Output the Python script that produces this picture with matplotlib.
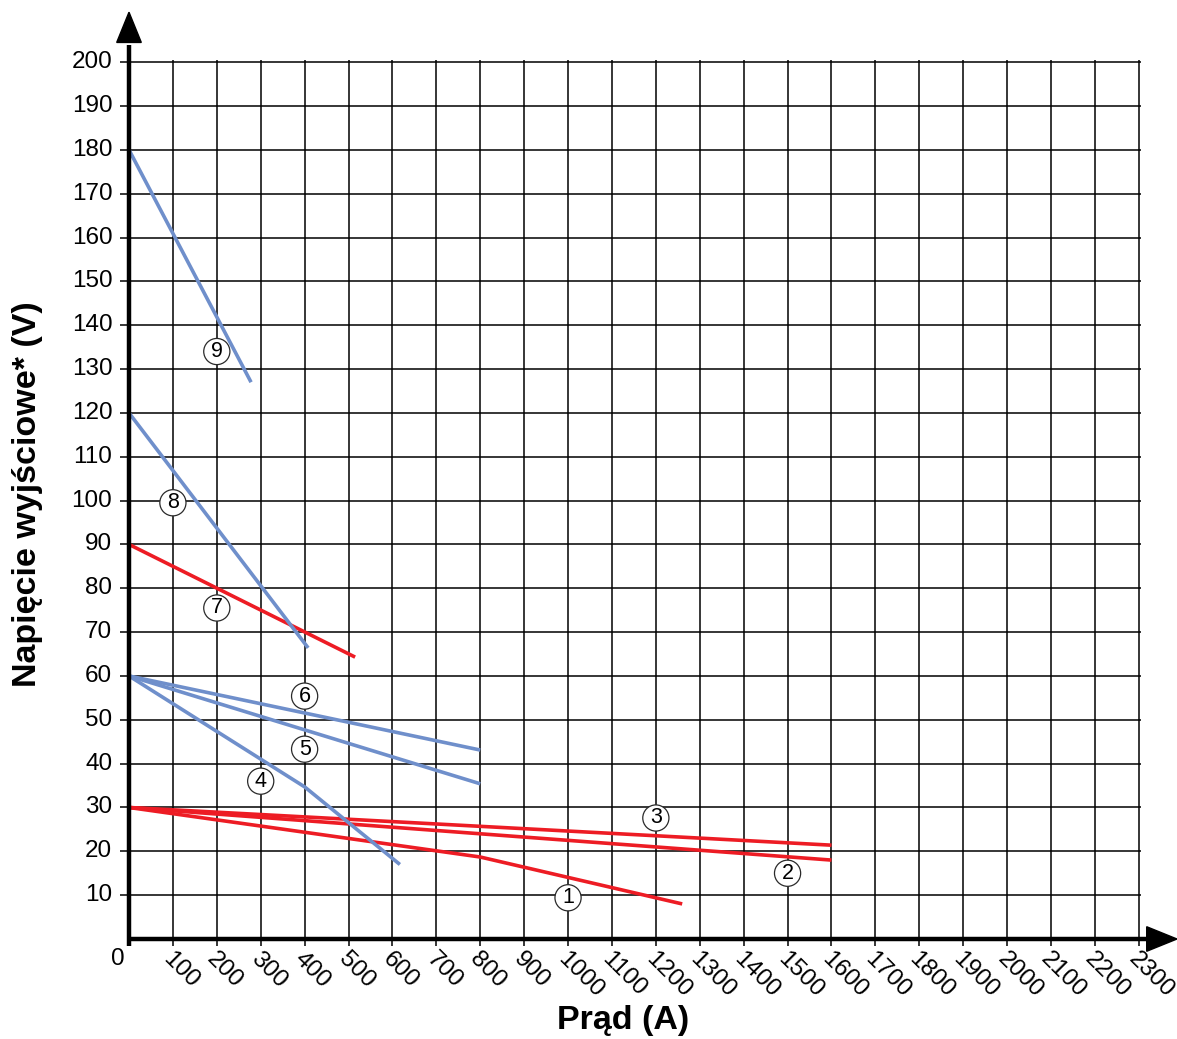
import matplotlib
matplotlib.use("Agg")
import matplotlib.pyplot as plt
from matplotlib.patches import FancyArrow

plt.rcParams['font.family'] = ['Liberation Sans', 'DejaVu Sans']

# Output characteristics: current (A) vs output voltage (V)
x_ticks = list(range(100, 2301, 100))
y_ticks = list(range(10, 201, 10))

curve_ids = ["1", "2", "3", "4", "5", "6", "7", "8", "9"]
curve_x = [
    [0, 800, 1260],
    [0, 1600],
    [0, 1600],
    [0, 400, 617],
    [0, 800],
    [0, 800],
    [0, 515],
    [0, 408],
    [0, 278],
]
curve_y = [
    [30, 18.7, 8],
    [30, 18.0],
    [30, 21.4],
    [60, 34.7, 17],
    [60, 35.4],
    [60, 43.1],
    [90, 64.3],
    [120, 66.4],
    [180, 127],
]
curve_kind = ["red", "red", "red", "blue", "blue", "blue", "red", "blue", "blue"]
label_x = [1000, 1500, 1200, 300, 400, 400, 200, 100, 200]
label_y = [9.4, 15.0, 27.6, 36.0, 43.3, 55.4, 75.5, 99.5, 134.0]

RED = "#ed1c24"
BLUE = "#6f8fcb"

fig = plt.figure(figsize=(11.77, 10.39), dpi=100)
ax = fig.add_axes([129 / 1177, 100 / 1039, 1048 / 1177, 929 / 1039])
ax.set_xlim(0, 2387)
ax.set_ylim(0, 211.9)
ax.set_axis_off()

# grid
ax.hlines(y_ticks, -20, 2305, colors="black", lw=1.1, zorder=1, clip_on=False)
ax.vlines(x_ticks, -1.6, 200.6, colors="black", lw=1.1, zorder=1, clip_on=False)

# axes with arrows
ax.plot([0, 0], [-1.6, 204], color="black", lw=3.2, zorder=5, clip_on=False,
        solid_capstyle="butt")
ax.plot([-2, 2330], [0, 0], color="black", lw=3.2, zorder=5, clip_on=False,
        solid_capstyle="butt")
ax.add_patch(FancyArrow(0, 204.5, 0, 211.4 - 204.5, width=0, head_width=56,
                        head_length=211.4 - 204.5, length_includes_head=True,
                        color="black", zorder=6, clip_on=False))
ax.add_patch(FancyArrow(2318, 0, 2387 - 2318, 0, width=0, head_width=5.6,
                        head_length=2387 - 2318, length_includes_head=True,
                        color="black", zorder=6, clip_on=False))

# curves
for cx, cy, kind in zip(curve_x, curve_y, curve_kind):
    ax.plot(cx, cy, color=RED if kind == "red" else BLUE, lw=2.6,
            solid_capstyle="butt", zorder=3, clip_on=False)

# curve numbers
for cid, lx, ly in zip(curve_ids, label_x, label_y):
    ax.text(lx, ly, cid, ha="center", va="center", fontsize=15.5, zorder=4,
            bbox=dict(boxstyle="circle,pad=0.12", fc="white", ec="#2a2a2a", lw=0.9))

# tick labels
for v in y_ticks:
    ax.text(-38, v, str(v), ha="right", va="center", fontsize=17.5)
ax.text(-26, -4.6, "0", ha="center", va="center", fontsize=17.5)
for v in x_ticks:
    ax.text(v - 15, -3.8, str(v), ha="left", va="center", fontsize=17.5,
            rotation=-45, rotation_mode="anchor")

fig.text(28 / 1177, 1 - 494 / 1039, "Napięcie wyjściowe* (V)", rotation=90,
         ha="center", va="center", fontsize=24.5, fontweight="bold")
fig.text(623 / 1177, 1 - 1020 / 1039, "Prąd (A)", ha="center", va="center",
         fontsize=24.5, fontweight="bold")

fig.savefig("out.png", dpi=100)
